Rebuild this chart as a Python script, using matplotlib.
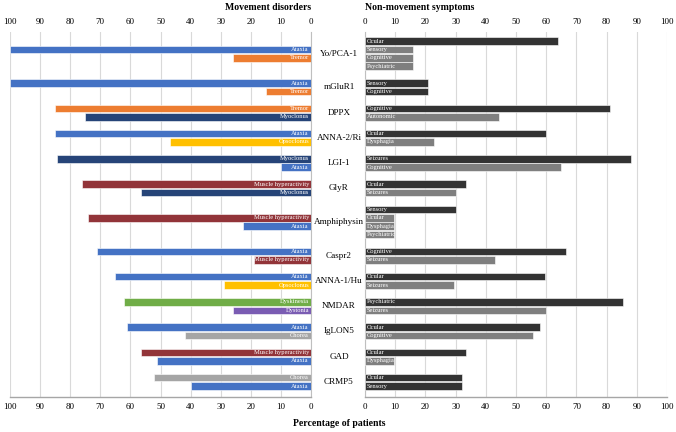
import matplotlib.pyplot as plt
from matplotlib.transforms import blended_transform_factory

plt.rcParams["font.family"] = ["Liberation Serif", "DejaVu Serif"]

antigens = ["Yo/PCA-1", "mGluR1", "DPPX", "ANNA-2/Ri", "LGI-1", "GlyR", "Amphiphysin",
            "Caspr2", "ANNA-1/Hu", "NMDAR", "IgLON5", "GAD", "CRMP5"]

move_labels = [["Ataxia", "Tremor"], ["Ataxia", "Tremor"], ["Tremor", "Myoclonus"],
               ["Ataxia", "Opsoclonus"], ["Myoclonus", "Ataxia"],
               ["Muscle hyperactivity", "Myoclonus"], ["Muscle hyperactivity", "Ataxia"],
               ["Ataxia", "Muscle hyperactivity"], ["Ataxia", "Opsoclonus"],
               ["Dyskinesia", "Dystonia"], ["Ataxia", "Chorea"],
               ["Muscle hyperactivity", "Ataxia"], ["Chorea", "Ataxia"]]
move_values = [[100, 26], [100, 15], [85, 75], [85, 47], [84.5, 10], [76, 56.5], [74, 22.5],
               [71, 19], [65, 29], [62, 26], [61, 42], [56.5, 51], [52, 40]]

nonmove_labels = [["Ocular", "Sensory", "Cognitive", "Psychiatric"], ["Sensory", "Cognitive"],
                  ["Cognitive", "Autonomic"], ["Ocular", "Dysphagia"], ["Seizures", "Cognitive"],
                  ["Ocular", "Seizures"], ["Sensory", "Ocular", "Dysphagia", "Psychiatric"],
                  ["Cognitive", "Seizures"], ["Ocular", "Seizures"], ["Psychiatric", "Seizures"],
                  ["Ocular", "Cognitive"], ["Ocular", "Dysphagia"], ["Ocular", "Sensory"]]
nonmove_values = [[64, 16, 16, 16], [21, 21], [81, 44.5], [60, 23], [88, 65], [33.5, 30],
                  [30, 9.5, 9.5, 9.5], [66.5, 43], [59.5, 29.5], [85.5, 60], [58, 55.5],
                  [33.5, 9.5], [32, 32]]

move_colors = {"Ataxia": "#4472C4", "Tremor": "#ED7D31", "Myoclonus": "#264478",
               "Opsoclonus": "#FFC000", "Muscle hyperactivity": "#923439",
               "Dyskinesia": "#70AD47", "Dystonia": "#7A5CB3", "Chorea": "#A5A5A5"}

fig = plt.figure(figsize=(6.76, 4.32), dpi=100)
ax1 = fig.add_axes([10 / 676, 35 / 432, 301 / 676, 365 / 432])
ax2 = fig.add_axes([365 / 676, 35 / 432, 302 / 676, 365 / 432])

# slot positions: one empty slot between groups
ypos = 0
label_tr = blended_transform_factory(fig.transFigure, ax1.transData)
for i, name in enumerate(antigens):
    n = max(len(move_values[i]), len(nonmove_values[i]))
    off = (n - len(move_values[i])) / 2
    for j, (lab, val) in enumerate(zip(move_labels[i], move_values[i])):
        y = ypos + off + j
        ax1.barh(y, val, height=0.9, color=move_colors[lab], edgecolor="white", linewidth=0.4, zorder=3)
        ax1.text(0.7, y, lab, ha="right", va="center", color="white", fontsize=4.7, zorder=4)
    top = max(nonmove_values[i])
    for j, (lab, val) in enumerate(zip(nonmove_labels[i], nonmove_values[i])):
        y = ypos + j
        c = "#333333" if val == top else "#7F7F7F"
        ax2.barh(y, val, height=0.9, color=c, edgecolor="white", linewidth=0.4, zorder=3)
        ax2.text(0.7, y, lab, ha="left", va="center", color="white", fontsize=4.7, zorder=4)
    ax1.text(339 / 676, ypos + (n - 1) / 2, name, transform=label_tr, ha="center", va="center", fontsize=6.6)
    ypos += n + 1

last = ypos - 2
for ax in (ax1, ax2):
    ax.set_ylim(last + 1.3, -1.07)
    ax.set_xticks(range(0, 101, 10))
    ax.set_yticks([])
    ax.tick_params(axis="x", top=True, labeltop=True, length=0, labelsize=6.5, pad=4)
    ax.grid(axis="x", color="#D9D9D9", linewidth=0.8, zorder=0)
    for s in ax.spines.values():
        s.set_visible(False)
    ax.spines["bottom"].set_visible(True)
    ax.spines["bottom"].set_color("#A6A6A6")
    ax.spines["bottom"].set_linewidth(1.0)

ax1.set_xlim(100, 0)
ax2.set_xlim(0, 100)
ax1.spines["right"].set_visible(True)
ax1.spines["right"].set_color("#BFBFBF")
ax2.spines["left"].set_visible(True)
ax2.spines["left"].set_color("#BFBFBF")

fig.text(311 / 676, 1 - 8 / 432, "Movement disorders", ha="right", va="center", fontsize=7, fontweight="bold")
fig.text(365 / 676, 1 - 8 / 432, "Non-movement symptoms", ha="left", va="center", fontsize=7, fontweight="bold")
fig.text(339 / 676, 1 - 423 / 432, "Percentage of patients", ha="center", va="center", fontsize=7, fontweight="bold")

fig.savefig("out.png", dpi=100)
